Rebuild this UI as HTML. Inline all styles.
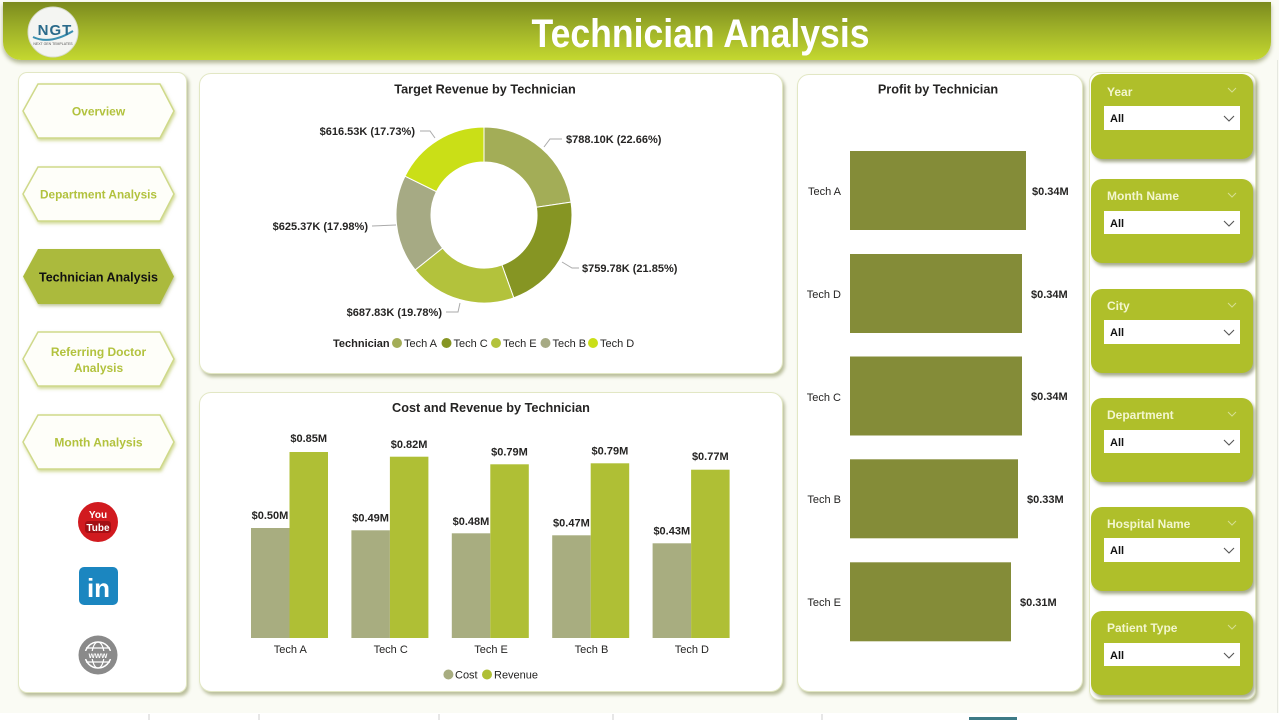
<!DOCTYPE html>
<html><head><meta charset="utf-8">
<style>
html,body{margin:0;padding:0;}
body{width:1279px;height:720px;position:relative;overflow:hidden;background:#fafbf4;font-family:"Liberation Sans",sans-serif;}
.hdr{position:absolute;left:3px;top:2px;width:1268px;height:58px;border-radius:0 0 18px 18px;background:linear-gradient(to bottom,#7b8a1d 0%,#9aac27 40%,#c4d830 100%);box-shadow:0 3px 4px rgba(90,100,30,0.45);z-index:1;}
.card{position:absolute;background:#fff;border:1px solid #e2e7c4;border-radius:12px;box-shadow:2px 3px 3px rgba(110,120,50,0.45);z-index:1;}
.sl{position:absolute;left:1091px;width:162px;background:#afbf2a;border-radius:11px;box-shadow:2px 3px 3px rgba(80,90,30,0.5);z-index:2;}
svg.ov{position:absolute;left:0;top:0;z-index:5;}
</style></head>
<body>
<div class="hdr"></div>
<div class="card" style="left:18px;top:72px;width:167px;height:619px;border-radius:9px;"></div>
<div class="card" style="left:199px;top:73px;width:582px;height:299px;"></div>
<div class="card" style="left:199px;top:392px;width:582px;height:298px;"></div>
<div class="card" style="left:797px;top:74px;width:284px;height:616px;"></div>
<div class="card" style="left:1089px;top:72px;width:165px;height:626px;border-radius:10px;"></div>
<div class="sl" style="top:74px;height:85px;"></div>
<div class="sl" style="top:179px;height:84px;"></div>
<div class="sl" style="top:289px;height:84px;"></div>
<div class="sl" style="top:398px;height:84px;"></div>
<div class="sl" style="top:507px;height:84px;"></div>
<div class="sl" style="top:611px;height:84px;"></div>

<svg class="ov" width="1279" height="720" viewBox="0 0 1279 720" xmlns="http://www.w3.org/2000/svg" font-family="Liberation Sans, sans-serif">
<defs>
<filter id="glow" x="-20%" y="-30%" width="140%" height="160%">
<feDropShadow dx="1" dy="2" stdDeviation="1.5" flood-color="#c4cf7c" flood-opacity="0.8"/>
</filter>
<filter id="sh" x="-20%" y="-30%" width="140%" height="160%">
<feDropShadow dx="1" dy="2" stdDeviation="1.5" flood-color="#7d8a30" flood-opacity="0.5"/>
</filter>
</defs>

<!-- header -->
<circle cx="53" cy="32" r="25" fill="#f4f5f2" stroke="#d8dccb" stroke-width="1"/>
<path d="M33 37 Q50 45 73 31" stroke="#3a8fb0" stroke-width="2" fill="none"/>
<text x="55" y="35" font-size="15" font-weight="bold" fill="#2a6a8a" text-anchor="middle" letter-spacing="1">NGT</text>
<text x="53" y="45" font-size="3.5" fill="#555" text-anchor="middle">NEXT GEN TEMPLATES</text>
<text x="700.5" y="47" font-size="40" font-weight="bold" fill="#ffffff" text-anchor="middle" textLength="338" lengthAdjust="spacingAndGlyphs">Technician Analysis</text>

<!-- nav -->
<g font-size="12" font-weight="bold" text-anchor="middle">
<polygon points="23,111 38,84 160,84 174,111 160,138 38,138" fill="#fefef9" stroke="#cfd98a" stroke-width="1.5" filter="url(#glow)"/>
<text x="98.5" y="115.5" fill="#b2c23e">Overview</text>
<polygon points="23,194 38,167 160,167 174,194 160,221 38,221" fill="#fefef9" stroke="#cfd98a" stroke-width="1.5" filter="url(#glow)"/>
<text x="98.5" y="198.5" fill="#b2c23e" textLength="117" lengthAdjust="spacingAndGlyphs">Department Analysis</text>
<polygon points="23,276.5 38,249 160,249 174,276.5 160,304 38,304" fill="#abba3c" filter="url(#sh)"/>
<text x="98.5" y="281.5" fill="#111" font-size="12.5" textLength="119" lengthAdjust="spacingAndGlyphs">Technician Analysis</text>
<polygon points="23,359 38,332 160,332 174,359 160,386 38,386" fill="#fefef9" stroke="#cfd98a" stroke-width="1.5" filter="url(#glow)"/>
<text x="98.5" y="356" fill="#b2c23e">Referring Doctor</text>
<text x="98.5" y="372" fill="#b2c23e">Analysis</text>
<polygon points="23,442 38,415 160,415 174,442 160,469 38,469" fill="#fefef9" stroke="#cfd98a" stroke-width="1.5" filter="url(#glow)"/>
<text x="98.5" y="446.5" fill="#b2c23e">Month Analysis</text>
</g>

<!-- icons -->
<circle cx="98" cy="522" r="20" fill="#d11a1f"/>
<text x="98" y="518" font-size="10" font-weight="bold" fill="#fff" text-anchor="middle">You</text>
<rect x="85" y="521" width="26" height="12" rx="3" fill="#a30f14"/>
<text x="98" y="531" font-size="10" font-weight="bold" fill="#fff" text-anchor="middle">Tube</text>
<rect x="79" y="567" width="39" height="38" rx="5" fill="#1b86c0"/>
<text x="98.5" y="597" font-size="26" font-weight="bold" fill="#fff" text-anchor="middle">in</text>
<circle cx="98" cy="655" r="19.5" fill="#8a8a8a"/>
<circle cx="98" cy="655" r="13" fill="none" stroke="#fff" stroke-width="1.5"/>
<ellipse cx="98" cy="655" rx="6" ry="13" fill="none" stroke="#fff" stroke-width="1.2"/>
<line x1="86" y1="648" x2="110" y2="648" stroke="#fff" stroke-width="1.2"/>
<line x1="86" y1="662" x2="110" y2="662" stroke="#fff" stroke-width="1.2"/>
<rect x="81" y="651" width="34" height="8" fill="#8a8a8a"/>
<text x="98" y="658" font-size="8" font-weight="bold" fill="#fff" text-anchor="middle">www</text>

<!-- donut card -->
<text x="485" y="93.5" font-size="12.7" font-weight="bold" fill="#252423" text-anchor="middle">Target Revenue by Technician</text>
<g stroke="#fff" stroke-width="1">
<path d="M484 127 A88 88 0 0 1 571.05 202.12 L536.43 207.24 A53 53 0 0 0 484 162 Z" fill="#a3ad57"/>
<path d="M571.05 202.12 A88 88 0 0 1 513.75 297.82 L501.92 264.88 A53 53 0 0 0 536.43 207.24 Z" fill="#869523"/>
<path d="M513.75 297.82 A88 88 0 0 1 415.21 269.89 L442.57 248.06 A53 53 0 0 0 501.92 264.88 Z" fill="#b3c23c"/>
<path d="M415.21 269.89 A88 88 0 0 1 405.02 176.19 L436.43 191.63 A53 53 0 0 0 442.57 248.06 Z" fill="#a6aa84"/>
<path d="M405.02 176.19 A88 88 0 0 1 484 127 L484 162 A53 53 0 0 0 436.43 191.63 Z" fill="#cadf17"/>
</g>
<g fill="none" stroke="#aaaaaa" stroke-width="1">
<polyline points="544,147 550,139 562,139"/>
<polyline points="562,262 572,268 579,268"/>
<polyline points="460,303 458,312 446,312"/>
<polyline points="396,225 372,226"/>
<polyline points="435,138 430,131 420,131"/>
</g>
<g font-size="11" font-weight="bold" fill="#252423">
<text x="566" y="143">$788.10K (22.66%)</text>
<text x="582" y="272">$759.78K (21.85%)</text>
<text x="442" y="316" text-anchor="end">$687.83K (19.78%)</text>
<text x="368" y="230" text-anchor="end">$625.37K (17.98%)</text>
<text x="415" y="135" text-anchor="end">$616.53K (17.73%)</text>
</g>
<text x="333" y="347" font-size="11" font-weight="bold" fill="#252423">Technician</text>
<g font-size="11" fill="#252423">
<circle cx="397" cy="343" r="5" fill="#a3ad57"/><text x="404" y="347">Tech A</text>
<circle cx="446.5" cy="343" r="5" fill="#869523"/><text x="453.5" y="347">Tech C</text>
<circle cx="496" cy="343" r="5" fill="#b3c23c"/><text x="503" y="347">Tech E</text>
<circle cx="545.5" cy="343" r="5" fill="#a6aa84"/><text x="552.5" y="347">Tech B</text>
<circle cx="593" cy="343" r="5" fill="#cadf17"/><text x="600" y="347">Tech D</text>
</g>

<!-- cost & revenue -->
<text x="491" y="412" font-size="12.7" font-weight="bold" fill="#252423" text-anchor="middle">Cost and Revenue by Technician</text>
<g fill="#a8ad80">
<rect x="251" y="528" width="38.5" height="110"/>
<rect x="351.4" y="530.3" width="38.5" height="107.7"/>
<rect x="451.8" y="533.3" width="38.5" height="104.7"/>
<rect x="552.2" y="535.3" width="38.5" height="102.7"/>
<rect x="652.6" y="543.3" width="38.5" height="94.7"/>
</g>
<g fill="#afbf35">
<rect x="289.5" y="452" width="38.5" height="186"/>
<rect x="389.9" y="456.7" width="38.5" height="181.3"/>
<rect x="490.3" y="464.3" width="38.5" height="173.7"/>
<rect x="590.7" y="463.3" width="38.5" height="174.7"/>
<rect x="691.1" y="469.7" width="38.5" height="168.3"/>
</g>
<g font-size="11" font-weight="bold" fill="#252423" text-anchor="middle">
<text x="270" y="519">$0.50M</text>
<text x="308.7" y="442">$0.85M</text>
<text x="370.6" y="521.5">$0.49M</text>
<text x="409.1" y="448">$0.82M</text>
<text x="471" y="525">$0.48M</text>
<text x="509.5" y="455.5">$0.79M</text>
<text x="571.4" y="526.5">$0.47M</text>
<text x="609.9" y="454.5">$0.79M</text>
<text x="671.8" y="534.5">$0.43M</text>
<text x="710.3" y="460">$0.77M</text>
</g>
<g font-size="11" fill="#252423" text-anchor="middle">
<text x="290.3" y="653">Tech A</text>
<text x="390.7" y="653">Tech C</text>
<text x="491.1" y="653">Tech E</text>
<text x="591.5" y="653">Tech B</text>
<text x="691.9" y="653">Tech D</text>
</g>
<g font-size="11" fill="#252423">
<circle cx="448.4" cy="674.5" r="5" fill="#a8ad80"/><text x="455" y="678.5">Cost</text>
<circle cx="487" cy="674.5" r="5" fill="#afbf35"/><text x="494" y="678.5">Revenue</text>
</g>

<!-- profit -->
<text x="938" y="93.5" font-size="12.7" font-weight="bold" fill="#252423" text-anchor="middle">Profit by Technician</text>
<g fill="#848c38">
<rect x="850" y="151" width="176" height="79"/>
<rect x="850" y="254" width="172" height="79"/>
<rect x="850" y="356.5" width="172" height="79"/>
<rect x="850" y="459.3" width="168" height="79"/>
<rect x="850" y="562.3" width="161" height="79"/>
</g>
<g font-size="11" fill="#252423" text-anchor="end">
<text x="841" y="195">Tech A</text>
<text x="841" y="298">Tech D</text>
<text x="841" y="401">Tech C</text>
<text x="841" y="503">Tech B</text>
<text x="841" y="606">Tech E</text>
</g>
<g font-size="11" font-weight="bold" fill="#252423">
<text x="1032" y="195">$0.34M</text>
<text x="1031" y="298">$0.34M</text>
<text x="1031" y="400">$0.34M</text>
<text x="1027" y="503">$0.33M</text>
<text x="1020" y="606">$0.31M</text>
</g>

<!-- slicers -->
<g font-size="12" font-weight="bold" fill="#f3f6cf">
<text x="1107" y="96">Year</text>
<text x="1107" y="200">Month Name</text>
<text x="1107" y="310">City</text>
<text x="1107" y="419">Department</text>
<text x="1107" y="528">Hospital Name</text>
<text x="1107" y="632">Patient Type</text>
</g>
<g fill="none" stroke="#d7df93" stroke-width="1">
<polyline points="1228,88 1232,92 1236,88"/>
<polyline points="1228,193 1232,197 1236,193"/>
<polyline points="1228,303 1232,307 1236,303"/>
<polyline points="1228,412 1232,416 1236,412"/>
<polyline points="1228,521 1232,525 1236,521"/>
<polyline points="1228,625 1232,629 1236,625"/>
</g>
<g fill="#ffffff">
<rect x="1104" y="106" width="136" height="24"/>
<rect x="1104" y="211" width="136" height="23"/>
<rect x="1104" y="320" width="136" height="24"/>
<rect x="1104" y="430" width="136" height="23"/>
<rect x="1104" y="538" width="136" height="24"/>
<rect x="1104" y="643" width="136" height="23"/>
</g>
<g font-size="11" font-weight="bold" fill="#111">
<text x="1110" y="122">All</text>
<text x="1110" y="227">All</text>
<text x="1110" y="336">All</text>
<text x="1110" y="446">All</text>
<text x="1110" y="554">All</text>
<text x="1110" y="659">All</text>
</g>
<g fill="none" stroke="#555" stroke-width="1.1">
<polyline points="1224,116 1229,121 1234,116"/>
<polyline points="1224,221 1229,226 1234,221"/>
<polyline points="1224,330 1229,335 1234,330"/>
<polyline points="1224,440 1229,445 1234,440"/>
<polyline points="1224,548 1229,553 1234,548"/>
<polyline points="1224,653 1229,658 1234,653"/>
</g>

<!-- bottom strip -->
<rect x="0" y="713" width="1279" height="7" fill="#ffffff"/>
<g stroke="#cfcfcf" stroke-width="1">
<line x1="149" y1="714" x2="149" y2="720"/>
<line x1="259" y1="714" x2="259" y2="720"/>
<line x1="439" y1="714" x2="439" y2="720"/>
<line x1="613" y1="714" x2="613" y2="720"/>
<line x1="822" y1="714" x2="822" y2="720"/>
</g>
<rect x="969" y="717" width="48" height="3" fill="#3d7a86"/>
<line x1="1277.5" y1="60" x2="1277.5" y2="713" stroke="#e6e8e0" stroke-width="1"/>
</svg>
</body></html>
